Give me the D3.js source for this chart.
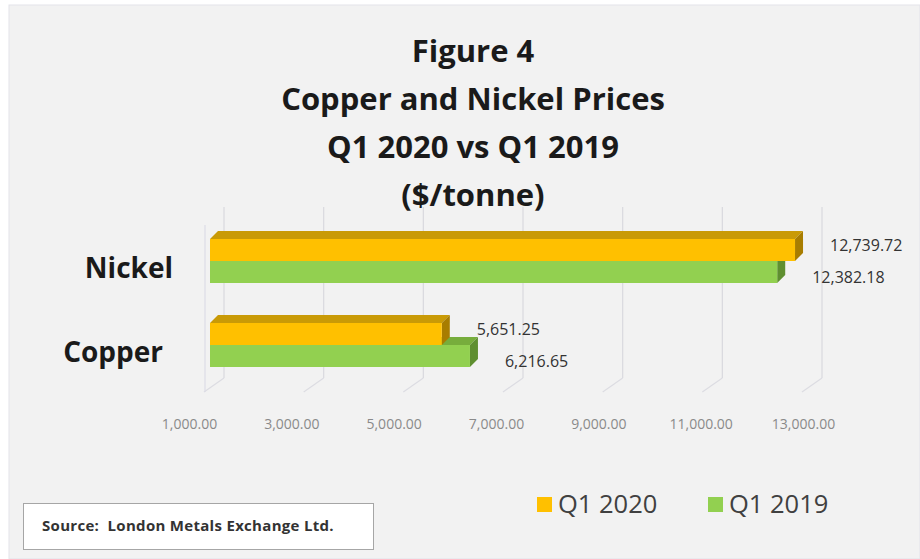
<!DOCTYPE html>
<html>
<head>
<meta charset="utf-8">
<script src="https://cdn.jsdelivr.net/npm/d3@7"></script>
<style>
  body { margin: 0; background: #fff; }
  text { font-family: "Open Sans", sans-serif; }
</style>
</head>
<body>
<div id="chart"></div>
<script>
// data
var categories = ["Nickel", "Copper"];
var seriesNames = ["Q1 2020", "Q1 2019"];
var q1_2020 = [12739.72, 5651.25];
var q1_2019 = [12382.18, 6216.65];
var tickValues = [1000, 3000, 5000, 7000, 9000, 11000, 13000];
var titleLines = ["Figure 4", "Copper and Nickel Prices", "Q1 2020 vs Q1 2019", "($/tonne)"];

var colors = {
    "Q1 2020": {front: "#ffc000", top: "#c99a06", side: "#a87d00"},
    "Q1 2019": {front: "#92d050", top: "#77ad3c", side: "#5f8f30"}
};

var width = 920, height = 559;
var depth = 8;      // 3d offset of the bars
var wall = 14;      // offset of the back wall

var svg = d3.select("#chart")
    .append("svg")
    .attr("width", width)
    .attr("height", height);

// chart background
svg.append("rect")
    .attr("x", 9).attr("y", 5)
    .attr("width", width - 9).attr("height", height - 5)
    .attr("fill", "#f2f2f2")
    .attr("stroke", "#e3e3ea");

// title
svg.append("g").selectAll("text")
    .data(titleLines)
    .enter()
    .append("text")
    .attr("x", 473)
    .attr("y", function(d, i) { return 62 + i * 48; })
    .attr("text-anchor", "middle")
    .attr("font-size", 31)
    .attr("font-weight", "bold")
    .attr("fill", "#1a1a1a")
    .text(function(d) { return d; });

// scales
var x = d3.scaleLinear()
    .domain([1000, 13000])
    .range([210, 808]);

var xLabels = d3.scaleLinear()
    .domain([1000, 13000])
    .range([189, 803]);

var y = d3.scalePoint()
    .domain(categories)
    .range([261, 345]);

var ySub = d3.scaleBand()
    .domain(seriesNames)
    .range([-22, 22]);

var labelX = d3.scaleLinear()
    .domain(y.range())
    .range([173, 163]);

// back wall gridlines + floor lines
var grid = svg.append("g");
grid.selectAll(".gl")
    .data(tickValues)
    .enter()
    .append("line")
    .attr("x1", function(d) { return x(d) + wall; })
    .attr("x2", function(d) { return x(d) + wall; })
    .attr("y1", 207)
    .attr("y2", 378)
    .attr("stroke", "#d9d9de")
    .attr("stroke-width", 1.2);
grid.selectAll(".fl")
    .data(tickValues)
    .enter()
    .append("line")
    .attr("x1", function(d) { return x(d) + wall; })
    .attr("x2", function(d) { return x(d) - 6; })
    .attr("y1", 378)
    .attr("y2", 392)
    .attr("stroke", "#dcdce2")
    .attr("stroke-width", 1.2);
grid.append("line")
    .attr("x1", x(1000) - 5).attr("x2", x(1000) - 5)
    .attr("y1", 225).attr("y2", 392)
    .attr("stroke", "#dcdce6")
    .attr("stroke-width", 1.2);

// x axis labels
var axis = svg.append("g")
    .attr("transform", "translate(0,416)")
    .call(d3.axisBottom(xLabels)
        .tickValues(tickValues)
        .tickSize(0)
        .tickFormat(d3.format(",.2f")));
axis.select(".domain").remove();
axis.selectAll("text")
    .attr("font-family", "Open Sans, sans-serif")
    .attr("font-size", 14)
    .attr("fill", "#8a8a8a");

// category labels
svg.append("g").selectAll("text")
    .data(categories)
    .enter()
    .append("text")
    .attr("x", function(d) { return labelX(y(d)); })
    .attr("y", function(d) { return y(d) + 17; })
    .attr("text-anchor", "end")
    .attr("font-size", 28)
    .attr("font-weight", "bold")
    .attr("fill", "#1a1a1a")
    .text(function(d) { return d; });

// bars (green drawn first so orange sits over it)
var bars = [];
categories.forEach(function(c, i) {
    bars.push({cat: c, series: "Q1 2019", value: q1_2019[i]});
    bars.push({cat: c, series: "Q1 2020", value: q1_2020[i]});
});

var g = svg.append("g").selectAll("g")
    .data(bars)
    .enter()
    .append("g");

function barTop(d) { return y(d.cat) + ySub(d.series); }
function barBottom(d) { return barTop(d) + ySub.bandwidth(); }

g.append("path")
    .attr("d", function(d) {
        var x0 = x(1000), x1 = x(d.value), t = barTop(d);
        return "M" + x0 + "," + t + "L" + (x0 + depth) + "," + (t - depth) +
            "L" + (x1 + depth) + "," + (t - depth) + "L" + x1 + "," + t + "Z";
    })
    .attr("fill", function(d) { return colors[d.series].top; });

g.append("path")
    .attr("d", function(d) {
        var x1 = x(d.value), t = barTop(d), b = barBottom(d);
        return "M" + x1 + "," + t + "L" + (x1 + depth) + "," + (t - depth) +
            "L" + (x1 + depth) + "," + (b - depth) + "L" + x1 + "," + b + "Z";
    })
    .attr("fill", function(d) { return colors[d.series].side; });

g.append("rect")
    .attr("x", x(1000))
    .attr("y", barTop)
    .attr("width", function(d) { return x(d.value) - x(1000); })
    .attr("height", ySub.bandwidth())
    .attr("fill", function(d) { return colors[d.series].front; });

// value labels
svg.append("g").selectAll("text")
    .data(bars)
    .enter()
    .append("text")
    .attr("x", function(d) { return x(d.value) + 35; })
    .attr("y", function(d) {
        var mid = barTop(d) + ySub.bandwidth() / 2;
        return mid + (d.series === "Q1 2020" ? -5 : 5) + 6;
    })
    .attr("font-size", 16)
    .attr("fill", "#333")
    .text(function(d) { return d3.format(",.2f")(d.value); });

// legend
var legend = svg.append("g").selectAll("g")
    .data(seriesNames)
    .enter()
    .append("g")
    .attr("transform", function(d, i) { return "translate(" + (537 + i * 171) + ",497)"; });
legend.append("rect")
    .attr("width", 15).attr("height", 15)
    .attr("fill", function(d) { return colors[d].front; });
legend.append("text")
    .attr("x", 21).attr("y", 16)
    .attr("font-size", 25.5)
    .attr("fill", "#404040")
    .text(function(d) { return d; });

// source box
svg.append("rect")
    .attr("x", 23.5).attr("y", 503.5)
    .attr("width", 350).attr("height", 46)
    .attr("fill", "#fff")
    .attr("stroke", "#a6a6a6");
svg.append("text")
    .attr("x", 42).attr("y", 531)
    .attr("font-size", 15)
    .attr("font-weight", "bold")
    .attr("letter-spacing", 0.3)
    .attr("fill", "#333")
    .style("white-space", "pre")
    .text("Source:  London Metals Exchange Ltd.");
</script>
</body>
</html>
